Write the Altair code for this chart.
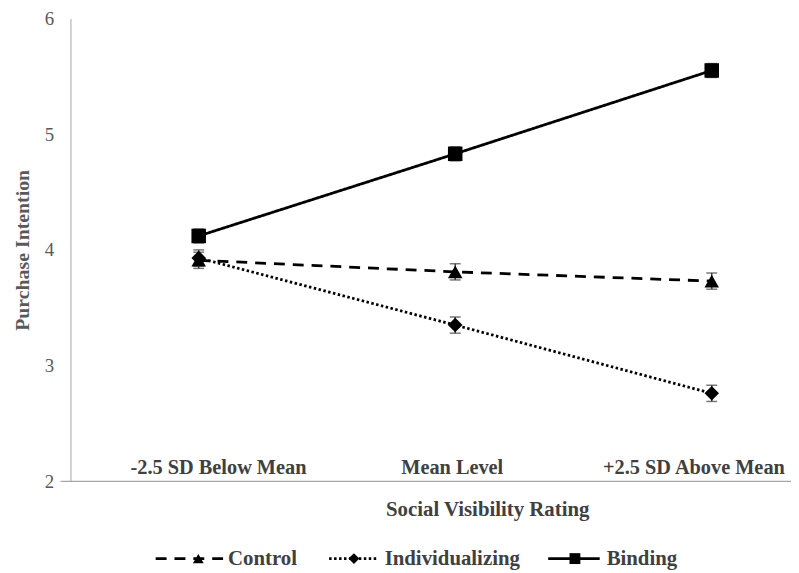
import altair as alt
import pandas as pd

# ---- data ----
categories = ["-2.5 SD Below Mean", "Mean Level", "+2.5 SD Above Mean"]
series_names = ["Control", "Individualizing", "Binding"]
control = [3.91, 3.81, 3.73]
individualizing = [3.93, 3.35, 2.76]
binding = [4.12, 4.83, 5.55]
control_err = [0.07, 0.07, 0.07]
individualizing_err = [0.07, 0.07, 0.07]
binding_err = [0.06, 0.06, 0.06]
y_ticks = [2, 3, 4, 5, 6]

values = {"Control": control, "Individualizing": individualizing, "Binding": binding}
errors = {"Control": control_err, "Individualizing": individualizing_err, "Binding": binding_err}

rows = []
for s in series_names:
    for i, c in enumerate(categories):
        v = values[s][i]
        e = errors[s][i]
        rows.append({"series": s, "pos": i, "category": c, "value": v,
                     "lo": v - e, "hi": v + e})
df = pd.DataFrame(rows)

W, H = 727, 467
FONT = "Liberation Serif"
GRAY = "#404040"
AXGRAY = "#a6a6a6"

xs = alt.Scale(domain=[-0.5, 2.309], nice=False, zero=False)
ys = alt.Scale(domain=[2, 6], nice=False, zero=False)

yaxis = alt.Axis(
    values=y_ticks, ticks=False, grid=False, domainColor=AXGRAY, domainWidth=1,
    labelFont=FONT, labelFontSize=19, labelColor="#595959", labelPadding=17,
    title="Purchase Intention", titleFont=FONT, titleFontSize=20,
    titleFontWeight="bold", titleColor="#595959", titlePadding=12)

shape_scale = alt.Scale(domain=series_names, range=["triangle-up", "diamond", "square"])
dash_scale = alt.Scale(domain=series_names, range=[[11, 8], [2.5, 2.5], [1, 0]])

base = alt.Chart(df)

X = alt.X("pos:Q", scale=xs, axis=None)

lines = base.mark_line(color="black", strokeWidth=2.8).encode(
    x=X,
    y=alt.Y("value:Q", scale=ys, axis=yaxis),
    strokeDash=alt.StrokeDash("series:N", scale=dash_scale, legend=None),
    detail="series:N",
)

err_rules = base.mark_rule(color=GRAY, strokeWidth=1.5).encode(
    x=X, y=alt.Y("lo:Q", scale=ys, axis=yaxis), y2="hi:Q",
)
cap_lo = base.mark_tick(color=GRAY, thickness=1.5, size=11, orient="horizontal").encode(
    x=X, y=alt.Y("lo:Q", scale=ys, axis=yaxis),
)
cap_hi = base.mark_tick(color=GRAY, thickness=1.5, size=11, orient="horizontal").encode(
    x=X, y=alt.Y("hi:Q", scale=ys, axis=yaxis),
)

points = base.mark_point(filled=True, color="black", opacity=1, size=215).encode(
    x=X, y=alt.Y("value:Q", scale=ys, axis=yaxis),
    shape=alt.Shape("series:N", scale=shape_scale, legend=None),
)

xaxis_line = alt.Chart(pd.DataFrame({"base": [2]})).mark_rule(color=AXGRAY, strokeWidth=1.2).encode(
    x=alt.value(-10), x2=alt.value(W),
    y=alt.Y("base:Q", scale=ys, axis=yaxis),
)

# category labels (Excel-style, slightly shifted to fit)
label_shift = [20, -3, -18]
cat_layers = []
for i, c in enumerate(categories):
    d = pd.DataFrame({"pos": [i], "category": [c], "base": [2]})
    cat_layers.append(alt.Chart(d).mark_text(
        font=FONT, fontSize=20.5, fontWeight="bold", color=GRAY, baseline="middle",
        dy=-13, dx=label_shift[i]
    ).encode(x=X, y=alt.Y("base:Q", scale=ys, axis=yaxis), text="category:N"))

one = pd.DataFrame({"a": [1]})
x_title = alt.Chart(one).mark_text(
    font=FONT, fontSize=21, fontWeight="bold", color=GRAY, baseline="middle", align="center",
    text="Social Visibility Rating"
).encode(x=alt.value(421), y=alt.value(496))

# ---- legend (decoration, built by hand) ----
LY = 545
legend_layers = []
legend_spec = [
    ("Control", 86, 156, 129, "triangle-up", [11, 8], 159),
    ("Individualizing", 261, 309, 286, "diamond", [2.5, 2.5], 317),
    ("Binding", 482, 534, 509, "square", [1, 0], 541),
]
for name, x1, x2, xm, shp, dash, xt in legend_spec:
    legend_layers.append(alt.Chart(one).mark_rule(color="black", strokeWidth=2.8, strokeDash=dash).encode(
        x=alt.value(x1), x2=alt.value(x2), y=alt.value(LY)))
    legend_layers.append(alt.Chart(one).mark_point(filled=True, color="black", opacity=1, size=120, shape=shp).encode(
        x=alt.value(xm), y=alt.value(LY)))
    legend_layers.append(alt.Chart(one).mark_text(
        font=FONT, fontSize=21, fontWeight="bold", color=GRAY, align="left", baseline="middle", text=name
    ).encode(x=alt.value(xt), y=alt.value(LY)))

chart = alt.layer(
    lines, xaxis_line, err_rules, cap_lo, cap_hi, points, *cat_layers, x_title, *legend_layers
).properties(
    width=W, height=H,
    padding={"left": 63, "top": 8, "right": 0, "bottom": 90},
    autosize=alt.AutoSizeParams(type="none"),
).configure(background="white").configure_view(stroke=None)

chart.save("out.html", embed_options={"renderer": "svg", "actions": False})
